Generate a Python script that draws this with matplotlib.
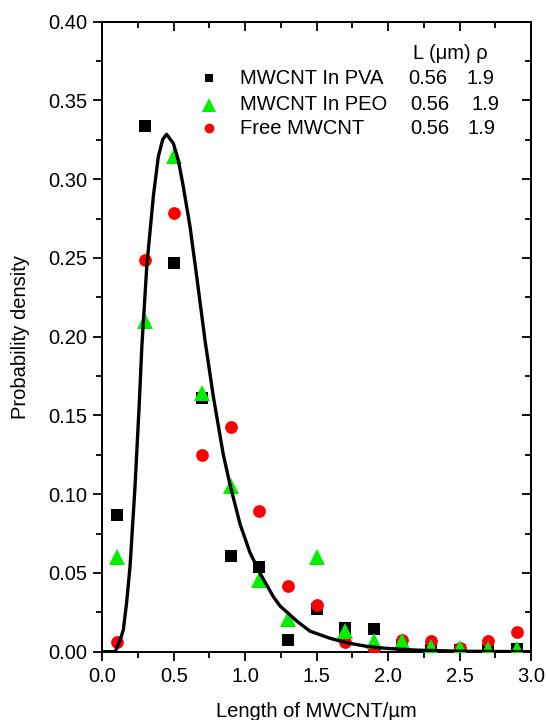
import matplotlib
matplotlib.use("Agg")
import matplotlib.pyplot as plt
from matplotlib.ticker import MultipleLocator

plt.rcParams['font.family'] = ['Liberation Sans', 'DejaVu Sans']

# ---- data ----
x_pts = [0.1, 0.3, 0.5, 0.7, 0.9, 1.1, 1.3, 1.5, 1.7, 1.9, 2.1, 2.3, 2.5, 2.7, 2.9]
pva = [0.087, 0.334, 0.247, 0.161, 0.061, 0.054, 0.0074, 0.027, 0.015, 0.0144,
       0.004, 0.001, 0.001, 0.001, 0.002]
peo = [0.060, 0.210, 0.315, 0.164, 0.105, 0.0455, 0.0208, 0.060, 0.0131, 0.007,
       0.007, 0.0028, 0.0023, 0.002, 0.002]
free = [0.0063, 0.249, 0.2785, 0.125, 0.1427, 0.0893, 0.0418, 0.0297, 0.0063, 0.0017,
        0.0074, 0.0066, 0.0023, 0.0066, 0.0123]

fit_x = [0.0, 0.09, 0.125, 0.147, 0.17, 0.194, 0.229, 0.259, 0.276, 0.311, 0.357,
         0.392, 0.423, 0.45, 0.497, 0.532, 0.567, 0.614, 0.661, 0.719, 0.777, 0.847,
         0.894, 0.964, 1.033, 1.104, 1.197, 1.244, 1.314, 1.36, 1.454, 1.594, 1.71,
         1.85, 1.99, 2.2, 2.5, 3.0]
fit_y = [0.0, 0.0, 0.0074, 0.0138, 0.031, 0.054, 0.105, 0.158, 0.1926, 0.2444, 0.289,
         0.3143, 0.3253, 0.3285, 0.3228, 0.312, 0.2952, 0.2698, 0.238, 0.1975, 0.162,
         0.1250, 0.1060, 0.0810, 0.0630, 0.0498, 0.0349, 0.0290, 0.0233, 0.0195, 0.0130,
         0.0085, 0.0057, 0.0034, 0.0021, 0.001, 0.0003, 0.0]

series_names = ["MWCNT In PVA", "MWCNT In PEO", "Free MWCNT"]
series_L = ["0.56", "0.56", "0.56"]
series_rho = ["1.9", "1.9", "1.9"]

GREEN = '#00f000'
RED = '#ff0000'
FS = 14.5

fig = plt.figure(figsize=(5.46, 7.20), dpi=100)
ax = fig.add_axes([102.3 / 546, 1 - 651.7 / 720, 428.7 / 546, 630 / 720])

ax.plot(x_pts, pva, 's', color='black', ms=8.4, mew=0, zorder=3)
ax.plot(x_pts, free, 'o', color=RED, ms=9.2, mew=0, zorder=4)
ax.plot(x_pts, peo, '^', color=GREEN, ms=11.5, mew=0, zorder=5)
ax.plot(fit_x, fit_y, '-', color='black', lw=2.4, zorder=6, solid_joinstyle='round')

ax.set_xlim(0, 3.0)
ax.set_ylim(0, 0.40)
ax.xaxis.set_major_locator(MultipleLocator(0.5))
ax.xaxis.set_minor_locator(MultipleLocator(0.25))
ax.yaxis.set_major_locator(MultipleLocator(0.05))
ax.yaxis.set_minor_locator(MultipleLocator(0.025))
ax.xaxis.set_major_formatter(plt.FormatStrFormatter('%.1f'))
ax.yaxis.set_major_formatter(plt.FormatStrFormatter('%.2f'))

for s in ax.spines.values():
    s.set_linewidth(1.4)

ax.tick_params(which='both', direction='out', top=False, right=False, labelsize=FS, width=1.3, pad=4.5)
ax.tick_params(which='major', length=6.5)
ax.tick_params(which='minor', length=4)

# mirrored inward ticks on top and right
axt = ax.secondary_xaxis('top')
axt.xaxis.set_major_locator(MultipleLocator(0.5))
axt.xaxis.set_minor_locator(MultipleLocator(0.25))
axt.tick_params(which='both', direction='in', labeltop=False, width=1.3)
axt.tick_params(which='major', length=6.5)
axt.tick_params(which='minor', length=4)
axt.spines['top'].set_linewidth(1.4)
axr = ax.secondary_yaxis('right')
axr.yaxis.set_major_locator(MultipleLocator(0.05))
axr.yaxis.set_minor_locator(MultipleLocator(0.025))
axr.tick_params(which='both', direction='in', labelright=False, width=1.3)
axr.tick_params(which='major', length=6.5)
axr.tick_params(which='minor', length=4)
axr.spines['right'].set_linewidth(1.4)

ax.set_xlabel('Length of MWCNT/µm', fontsize=FS)
ax.xaxis.set_label_coords(0.5, -0.080)
ax.set_ylabel('Probability density', fontsize=FS)
ax.yaxis.set_label_coords(-0.169, 0.5)

# legend table
T = ax.transAxes
ax.text(0.725, 0.950, 'L (μm) ρ', transform=T, fontsize=FS, ha='left', va='center')
rows_y = [0.910, 0.868, 0.831]
mk = [('s', 'black', 6), ('^', GREEN, 10.5), ('o', RED, 7)]
L_x = [0.713, 0.718, 0.718]
r_x = [0.850, 0.861, 0.853]
for i in range(3):
    m, c, s = mk[i]
    ax.plot([0.249], [rows_y[i]], m, color=c, ms=s, mew=0, transform=T, clip_on=False)
    ax.text(0.322, rows_y[i], series_names[i], transform=T, fontsize=FS, ha='left', va='center')
    ax.text(L_x[i], rows_y[i], series_L[i], transform=T, fontsize=FS, ha='left', va='center')
    ax.text(r_x[i], rows_y[i], series_rho[i], transform=T, fontsize=FS, ha='left', va='center')

fig.savefig('out.png', dpi=100)
